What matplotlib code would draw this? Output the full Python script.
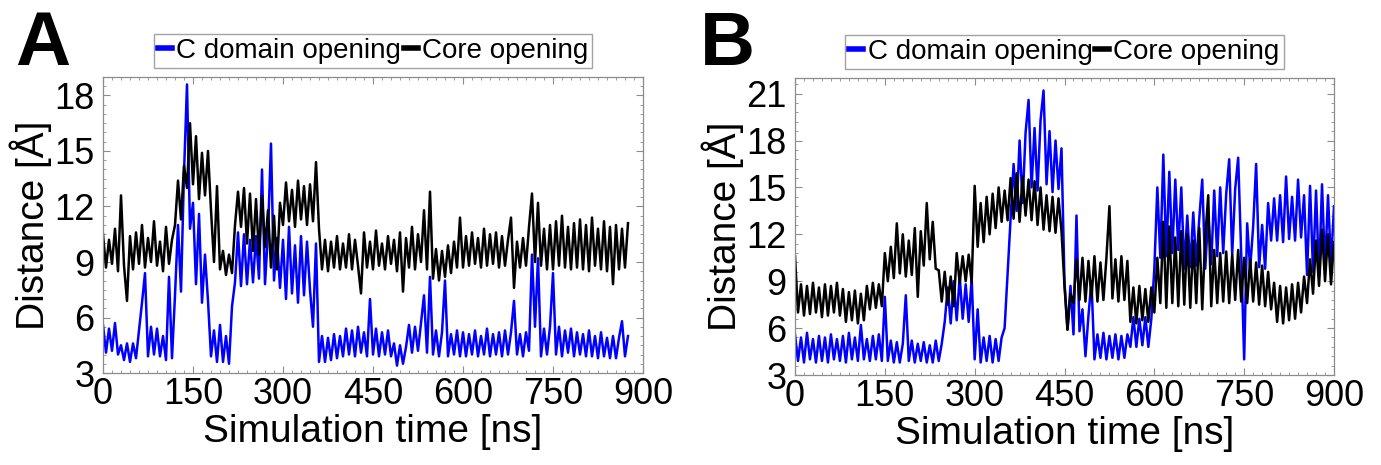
import numpy as np
import matplotlib
matplotlib.use('Agg')
import matplotlib.pyplot as plt
from matplotlib.ticker import MultipleLocator

plt.rcParams['font.family'] = ['Liberation Sans', 'DejaVu Sans']

# values, one every 5 ns
core_a = [10.5, 8.7, 10.2, 8.9, 10.8, 8.5, 12.6, 8.8, 6.9, 10.4,
          8.6, 10.6, 8.9, 11.0, 8.7, 10.3, 9.0, 11.2, 8.8, 10.1,
          8.5, 10.9, 8.9, 10.2, 11.0, 13.4, 11.3, 14.2, 13.0, 16.5,
          13.2, 15.8, 12.4, 14.9, 12.6, 15.0, 11.8, 9.0, 13.1, 8.6,
          9.6, 8.3, 9.4, 8.4, 11.0, 12.8, 10.9, 13.0, 10.0, 12.7,
          9.6, 12.4, 9.4, 12.6, 9.8, 11.8, 8.7, 11.5, 8.6, 12.2,
          11.0, 13.3, 11.2, 12.9, 10.9, 13.4, 11.3, 13.1, 11.0, 13.2,
          11.2, 14.4, 10.8, 8.6, 10.2, 8.5, 10.1, 8.7, 10.4, 8.6,
          10.0, 8.7, 10.5, 8.6, 10.2, 8.8, 7.3, 10.6, 8.7, 10.1,
          8.6, 10.7, 8.8, 10.0, 8.6, 10.4, 8.9, 10.2, 8.5, 10.6,
          7.4, 10.3, 8.7, 10.9, 8.6, 10.5, 9.0, 11.8, 8.6, 12.8,
          8.1, 9.7, 8.0, 9.6, 8.2, 9.9, 8.4, 10.1, 8.7, 11.4,
          8.7, 10.4, 8.8, 10.6, 8.9, 10.3, 8.7, 10.8, 8.8, 10.5,
          8.9, 10.6, 8.7, 10.4, 8.8, 10.2, 11.4, 7.6, 10.1, 8.7,
          10.3, 8.8, 10.9, 12.7, 9.0, 12.2, 8.8, 10.8, 8.6, 11.0,
          8.6, 11.2, 8.8, 11.5, 8.7, 10.9, 8.6, 11.1, 8.7, 11.3,
          8.6, 11.0, 8.5, 11.4, 8.8, 10.8, 8.6, 11.2, 8.5, 10.9,
          7.8, 11.0, 8.6, 10.8, 8.7, 11.1]
cdom_a = [5.6, 4.1, 5.4, 4.2, 5.7, 4.0, 4.5, 3.7, 4.6, 3.6,
          4.6, 3.8, 5.3, 6.8, 8.4, 3.9, 5.5, 4.0, 5.4, 3.9,
          5.0, 3.7, 8.2, 3.8, 7.2, 11.0, 7.4, 13.8, 18.6, 10.8,
          12.2, 7.8, 11.6, 6.8, 9.4, 6.9, 3.9, 5.3, 3.6, 5.6,
          3.6, 5.0, 3.5, 6.6, 7.9, 10.6, 7.7, 10.5, 7.8, 10.2,
          7.9, 10.4, 8.1, 14.0, 7.8, 10.6, 15.4, 8.0, 10.3, 7.6,
          10.2, 7.0, 10.9, 7.3, 9.9, 6.8, 10.4, 7.2, 10.1, 7.5,
          5.5, 10.0, 3.6, 5.0, 3.6, 4.9, 3.7, 5.1, 3.8, 5.0,
          3.9, 5.4, 4.0, 5.3, 3.9, 5.5, 4.1, 5.2, 3.9, 7.0,
          4.0, 5.4, 3.9, 5.2, 4.0, 5.3, 3.9, 4.6, 3.4, 4.5,
          3.5, 4.4, 5.6, 4.1, 5.5, 4.2, 5.7, 7.2, 4.1, 8.2,
          4.0, 5.3, 3.9, 5.2, 8.0, 3.9, 5.1, 4.0, 5.3, 3.9,
          5.2, 3.9, 5.1, 4.0, 5.3, 3.9, 5.0, 4.0, 5.4, 3.9,
          5.1, 4.0, 5.2, 3.9, 5.3, 4.0, 5.2, 6.9, 4.0, 5.1,
          3.9, 5.2, 4.2, 9.4, 5.5, 9.2, 3.9, 5.4, 4.0, 5.5,
          8.4, 4.0, 5.5, 3.9, 5.3, 4.1, 5.4, 3.9, 5.2, 4.0,
          5.1, 3.9, 5.3, 3.9, 5.0, 3.8, 5.2, 3.9, 4.9, 3.8,
          5.0, 3.8, 4.9, 5.8, 3.9, 5.0]

core_b = [10.6, 7.0, 8.8, 6.8, 8.7, 6.9, 8.9, 7.0, 8.6, 6.7,
          8.8, 6.8, 8.7, 7.0, 8.9, 6.8, 8.5, 6.4, 8.3, 6.5,
          8.4, 6.3, 8.2, 6.5, 8.7, 7.2, 8.9, 7.3, 8.8, 7.4,
          10.8, 9.0, 11.2, 9.2, 12.7, 9.5, 12.0, 9.3, 11.6, 9.4,
          12.4, 8.0, 12.2, 10.0, 14.0, 10.4, 12.8, 9.8, 9.7, 7.7,
          9.6, 7.5, 9.3, 7.4, 10.8, 8.9, 10.6, 9.0, 10.7, 8.9,
          15.1, 11.2, 14.0, 11.5, 14.4, 12.0, 14.6, 12.4, 15.0, 12.8,
          14.8, 12.9, 15.6, 13.0, 15.9, 12.8, 15.7, 13.2, 15.5, 12.9,
          15.4, 12.6, 15.0, 12.3, 14.5, 12.2, 14.4, 12.1, 14.3, 12.2,
          8.7, 5.9, 8.2, 7.6, 10.4, 7.8, 10.5, 7.7, 10.3, 7.9,
          10.6, 7.7, 10.2, 7.8, 10.5, 13.8, 7.9, 10.4, 7.7, 10.6,
          7.8, 10.3, 6.4, 8.6, 6.3, 8.7, 6.5, 8.5, 6.4, 8.6,
          7.0, 10.5, 7.6, 12.8, 7.3, 12.5, 7.6, 11.8, 7.4, 12.2,
          7.5, 12.0, 7.3, 11.6, 7.6, 12.4, 7.2, 11.8, 14.5, 7.4,
          11.0, 7.6, 10.8, 7.7, 10.9, 7.6, 10.7, 7.8, 11.0, 7.7,
          10.5, 7.6, 10.4, 7.7, 10.2, 7.5, 10.0, 7.4, 9.6, 7.2,
          8.9, 6.4, 8.7, 6.3, 8.6, 6.5, 8.8, 6.6, 8.9, 7.0,
          9.3, 7.6, 10.4, 8.2, 11.6, 8.7, 12.3, 9.0, 12.0, 8.8, 11.5]
cdom_b = [5.6, 3.9, 5.4, 3.8, 5.7, 4.0, 5.3, 3.8, 5.5, 3.9,
          5.4, 3.8, 5.6, 4.0, 5.3, 3.9, 5.5, 3.8, 5.7, 4.0,
          5.4, 3.9, 6.2, 4.0, 5.3, 3.9, 5.5, 4.0, 5.6, 3.9,
          8.0, 3.9, 5.2, 3.8, 5.1, 3.8, 5.0, 8.1, 3.9, 5.2,
          3.8, 5.0, 3.9, 5.1, 3.8, 4.9, 3.8, 5.2, 3.9, 5.0,
          6.4, 8.6, 6.3, 9.0, 6.5, 9.3, 6.6, 8.8, 6.4, 9.2,
          4.0, 7.2, 3.8, 5.4, 3.9, 5.5, 3.8, 5.3, 3.9, 5.4,
          6.0, 9.5, 13.0, 16.5, 13.5, 18.0, 14.0, 18.5, 20.6, 15.0,
          18.8, 14.8, 19.3, 21.2, 15.2, 18.6, 14.7, 18.0, 14.9, 17.5,
          8.9, 5.9, 8.7, 5.6, 13.2, 5.8, 7.2, 4.2, 6.8, 9.0,
          4.0, 5.6, 4.1, 5.7, 4.0, 5.5, 4.1, 5.6, 4.0, 5.5,
          4.1, 5.6, 4.8, 6.7, 4.8, 6.6, 4.9, 6.7, 4.8, 6.6,
          9.8, 15.0, 10.5, 17.1, 10.6, 16.0, 10.8, 15.5, 11.0, 15.0,
          9.8, 13.2, 9.9, 13.4, 10.0, 13.0, 15.5, 9.8, 13.3, 10.1,
          14.8, 10.6, 15.0, 10.8, 14.6, 16.8, 10.7, 14.9, 16.9, 10.8,
          4.0, 12.7, 9.8, 12.5, 16.5, 9.9, 12.6, 9.8, 14.0, 11.6,
          14.3, 11.6, 14.5, 11.5, 15.7, 11.7, 14.4, 11.6, 15.5, 11.8,
          14.5, 9.4, 15.1, 9.6, 14.8, 9.3, 15.2, 9.8, 14.5, 10.0, 13.8]

time_a = np.arange(len(core_a)) * 5
time_b = np.arange(len(core_b)) * 5

W, H = 1381, 465
fig = plt.figure(figsize=(W / 100, H / 100), dpi=100)
axA = fig.add_axes([103 / W, 92 / H, 540 / W, 296 / H])
axB = fig.add_axes([795 / W, 90 / H, 539 / W, 297 / H])

panels = [(axA, time_a, cdom_a, core_a, (3, 19), 0.5, 'A', 15),
          (axB, time_b, cdom_b, core_b, (3, 22), 0.6, 'B', 700)]

for ax, t, cd, co, ylim, yminor, letter, lx in panels:
    ax.plot(t, cd, color='blue', lw=1.8, label='C domain opening')
    ax.plot(t, co, color='black', lw=1.8, label='Core opening')
    ax.set_xlim(0, 900)
    ax.set_ylim(*ylim)
    ax.xaxis.set_major_locator(MultipleLocator(150))
    ax.xaxis.set_minor_locator(MultipleLocator(15))
    ax.yaxis.set_major_locator(MultipleLocator(3))
    ax.yaxis.set_minor_locator(MultipleLocator(yminor))
    ax.tick_params(which='both', direction='in', top=True, right=True,
                   color='#8c8c8c', labelsize=26, pad=3)
    ax.tick_params(axis='y', pad=6)
    ax.tick_params(which='major', length=5, width=0.8)
    ax.tick_params(which='minor', length=2.5, width=0.6)
    for s in ax.spines.values():
        s.set_color('#8c8c8c')
        s.set_linewidth(0.9)
    ax.set_xlabel('Simulation time [ns]', fontsize=28, labelpad=1)
    ax.set_ylabel('Distance [Å]', fontsize=28, labelpad=2)
    leg = ax.legend(loc='lower center', bbox_to_anchor=(0.5, 1.03), ncol=2,
                    fontsize=20, frameon=True, fancybox=False,
                    handlelength=0.5, handletextpad=0.15, columnspacing=0.1,
                    borderpad=0.15, borderaxespad=0)
    leg.get_frame().set_edgecolor('#8c8c8c')
    leg.get_frame().set_linewidth(1.0)
    for h in leg.get_lines():
        h.set_linewidth(4)
    fig.text(lx / W, 1 - 65 / H, letter, fontsize=55, fontweight='bold',
             ha='left', va='baseline')

fig.savefig('out.png', dpi=100)
